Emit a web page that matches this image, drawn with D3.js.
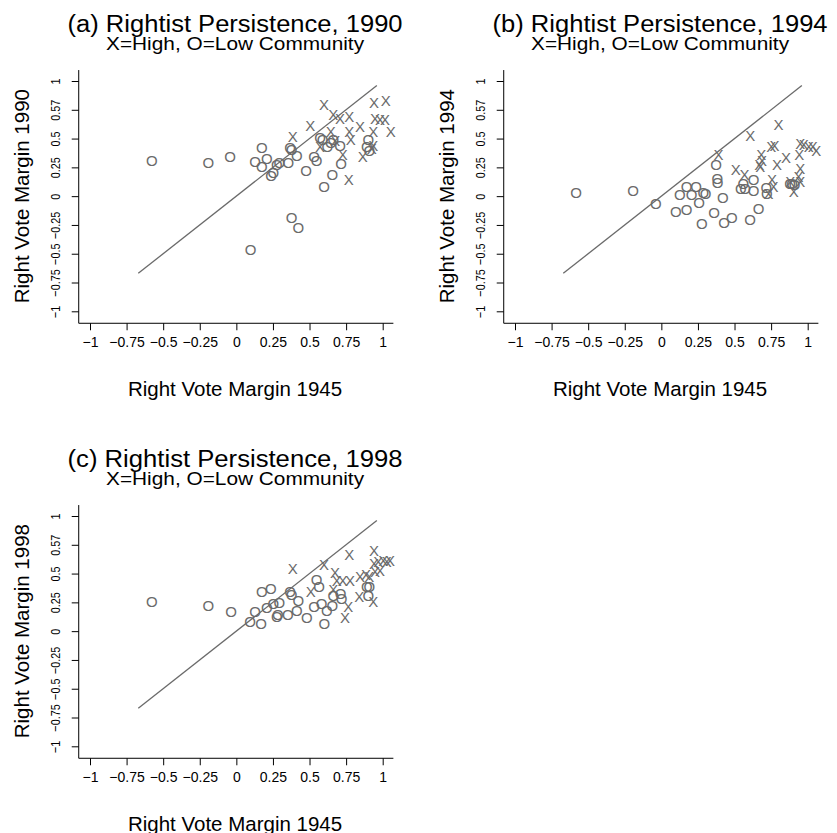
<!DOCTYPE html>
<html>
<head>
<meta charset="utf-8">
<script src="https://cdn.jsdelivr.net/npm/d3@7"></script>
<style>
  body { margin: 0; background: #fff; }
  text { font-family: "Liberation Sans", Arial, Helvetica, sans-serif; fill: #000; }
</style>
</head>
<body>
<script>
// Data: [1945 margin, later margin]
const low1990 = [[-0.578,0.307],[-0.191,0.292],[-0.043,0.344],[0.098,-0.460],[0.128,0.300],[0.174,0.425],
  [0.174,0.260],[0.208,0.324],[0.237,0.179],[0.253,0.202],[0.276,0.272],[0.294,0.295],[0.355,0.295],
  [0.367,0.425],[0.378,0.408],[0.413,0.350],[0.378,-0.186],[0.424,-0.273],[0.476,0.226],[0.531,0.344],
  [0.549,0.307],[0.572,0.512],[0.590,0.489],[0.599,0.083],[0.622,0.430],[0.645,0.469],[0.656,0.185],
  [0.663,0.489],[0.708,0.437],[0.715,0.287],[0.891,0.430],[0.902,0.489],[0.909,0.396]];
const high1990 = [[0.385,0.518],[0.505,0.613],[0.572,0.430],[0.599,0.799],[0.645,0.561],[0.663,0.712],
  [0.675,0.480],[0.708,0.677],[0.727,0.359],[0.768,0.148],[0.772,0.691],[0.772,0.561],[0.781,0.495],
  [0.845,0.604],[0.864,0.344],[0.925,0.417],[0.936,0.437],[0.936,0.561],[0.941,0.816],[0.948,0.677],
  [0.982,0.669],[1.016,0.663],[1.021,0.828],[1.055,0.561]];

const low1994 = [[-0.582,0.035],[-0.193,0.049],[-0.038,-0.061],[0.099,-0.134],[0.127,0.017],[0.173,-0.119],
  [0.173,0.083],[0.207,0.011],[0.237,0.083],[0.257,-0.052],[0.276,-0.235],[0.287,0.035],[0.303,0.026],
  [0.360,-0.139],[0.374,0.278],[0.383,0.156],[0.385,0.122],[0.420,-0.012],[0.429,-0.229],[0.481,-0.186],
  [0.543,0.063],[0.561,0.113],[0.573,0.063],[0.607,-0.206],[0.630,0.142],[0.630,0.046],[0.664,-0.104],
  [0.717,0.075],[0.721,0.026],[0.880,0.113],[0.893,0.113],[0.911,0.098]];
const high1994 = [[0.390,0.359],[0.509,0.228],[0.568,0.185],[0.607,0.524],[0.669,0.278],[0.676,0.257],
  [0.682,0.359],[0.687,0.307],[0.733,0.026],[0.751,0.430],[0.756,0.142],[0.767,0.083],[0.774,0.439],
  [0.790,0.272],[0.801,0.625],[0.852,0.335],[0.881,0.127],[0.904,0.040],[0.938,0.170],[0.943,0.359],
  [0.950,0.460],[0.950,0.243],[0.950,0.127],[0.973,0.446],[1.007,0.430],[1.034,0.430],[1.058,0.393]];

const low1998 = [[-0.578,0.254],[-0.191,0.226],[-0.036,0.168],[0.094,0.081],[0.128,0.168],[0.169,0.067],
  [0.174,0.341],[0.208,0.206],[0.235,0.371],[0.253,0.241],[0.276,0.130],[0.283,0.148],[0.294,0.246],
  [0.351,0.145],[0.367,0.341],[0.378,0.321],[0.413,0.182],[0.424,0.261],[0.481,0.119],[0.531,0.217],
  [0.549,0.452],[0.565,0.391],[0.583,0.241],[0.601,0.067],[0.618,0.182],[0.656,0.226],[0.663,0.313],
  [0.713,0.327],[0.719,0.284],[0.891,0.385],[0.902,0.313],[0.909,0.391]];
const high1998 = [[0.385,0.544],[0.508,0.347],[0.599,0.582],[0.663,0.362],[0.674,0.506],[0.686,0.443],
  [0.727,0.437],[0.743,0.119],[0.765,0.211],[0.772,0.669],[0.777,0.443],[0.840,0.298],[0.845,0.472],
  [0.886,0.495],[0.909,0.472],[0.936,0.254],[0.941,0.703],[0.941,0.588],[0.948,0.515],[0.970,0.602],
  [0.982,0.530],[1.004,0.617],[1.028,0.602],[1.050,0.617]];

const panels = [
  { title: '(a) Rightist Persistence, 1990', ylab: 'Right Vote Margin 1990', low: low1990, high: high1990, ox: 0, oy: 0 },
  { title: '(b) Rightist Persistence, 1994', ylab: 'Right Vote Margin 1994', low: low1994, high: high1994, ox: 425, oy: 0 },
  { title: '(c) Rightist Persistence, 1998', ylab: 'Right Vote Margin 1998', low: low1998, high: high1998, ox: 0, oy: 435 }
];

const xTicks = [-1, -0.75, -0.5, -0.25, 0, 0.25, 0.5, 0.75, 1];
const xTickLabels = ['−1', '−0.75', '−0.5', '−0.25', '0', '0.25', '0.5', '0.75', '1'];
const yTicks = [-1, -0.75, -0.5, -0.25, 0, 0.25, 0.5, 0.75, 1];
const yTickLabels = ['−1', '−0.75', '−0.5', '−0.25', '0', '0.25', '0.5', '0.57', '1'];
const diag = [-0.67, 0.96];
const xlim = [-1.077, 1.073];
const ylim = [-1.104, 1.095];

const w = 837, h = 833;
const grey = '#6a6a6a';

const svg = d3.select('body').append('svg')
  .attr('width', w)
  .attr('height', h);

panels.forEach(p => {
  const g = svg.append('g').attr('transform', `translate(${p.ox},${p.oy})`);

  const x = d3.scaleLinear().domain([-1, 1]).range([90, 382.7]);
  const y = d3.scaleLinear().domain([-1, 1]).range([311.3, 81]);
  const cx = (x(xlim[0]) + x(xlim[1])) / 2 - 1;

  // titles
  g.append('text')
    .attr('x', cx).attr('y', 31.5)
    .attr('text-anchor', 'middle')
    .attr('font-size', 23)
    .attr('textLength', 335)
    .attr('lengthAdjust', 'spacingAndGlyphs')
    .text(p.title);
  g.append('text')
    .attr('x', cx).attr('y', 50)
    .attr('text-anchor', 'middle')
    .attr('font-size', 18)
    .attr('textLength', 258)
    .attr('lengthAdjust', 'spacingAndGlyphs')
    .text('X=High, O=Low Community');

  // L-shaped frame
  g.append('line')
    .attr('x1', x(xlim[0])).attr('x2', x(xlim[0]))
    .attr('y1', y(ylim[1])).attr('y2', y(ylim[0]))
    .attr('stroke', '#000');
  g.append('line')
    .attr('x1', x(xlim[0])).attr('x2', x(xlim[1]))
    .attr('y1', y(ylim[0])).attr('y2', y(ylim[0]))
    .attr('stroke', '#000');

  // x axis
  const xa = g.append('g')
    .attr('transform', `translate(0,${y(ylim[0])})`)
    .call(d3.axisBottom(x).tickValues(xTicks).tickSize(7).tickPadding(7)
      .tickFormat((d, i) => xTickLabels[i]));
  xa.select('.domain').remove();
  xa.selectAll('text').attr('font-size', 14).attr('font-family', '"Liberation Sans", Arial, sans-serif');

  // y axis, labels turned
  const ya = g.append('g')
    .attr('transform', `translate(${x(xlim[0])},0)`)
    .call(d3.axisLeft(y).tickValues(yTicks).tickSize(7).tickFormat(''));
  ya.select('.domain').remove();
  ya.selectAll('.tick').append('text')
    .attr('transform', 'translate(-19,0) rotate(-90) scale(0.8,1)')
    .attr('text-anchor', 'middle')
    .attr('font-size', 13.5)
    .attr('fill', '#000')
    .text((d, i) => yTickLabels[i]);

  // axis titles
  g.append('text')
    .attr('x', cx).attr('y', 395.5)
    .attr('text-anchor', 'middle')
    .attr('font-size', 20.5)
    .text('Right Vote Margin 1945');
  g.append('text')
    .attr('transform', `translate(28.5,${y(0)}) rotate(-90)`)
    .attr('text-anchor', 'middle')
    .attr('font-size', 20.5)
    .text(p.ylab);

  // 45 degree line
  g.append('line')
    .attr('x1', x(diag[0])).attr('y1', y(diag[0]))
    .attr('x2', x(diag[1])).attr('y2', y(diag[1]))
    .attr('stroke', grey)
    .attr('stroke-width', 1.3);

  // points drawn as letters
  g.selectAll('text.low')
    .data(p.low)
    .enter()
    .append('text')
    .attr('class', 'low')
    .attr('x', d => x(d[0]))
    .attr('y', d => y(d[1]) + 5.4)
    .attr('text-anchor', 'middle')
    .attr('font-size', 15)
    .style('fill', grey)
    .text('O');
  g.selectAll('text.high')
    .data(p.high)
    .enter()
    .append('text')
    .attr('class', 'high')
    .attr('x', d => x(d[0]))
    .attr('y', d => y(d[1]) + 5.4)
    .attr('text-anchor', 'middle')
    .attr('font-size', 15)
    .style('fill', grey)
    .text('X');
});
</script>
</body>
</html>
